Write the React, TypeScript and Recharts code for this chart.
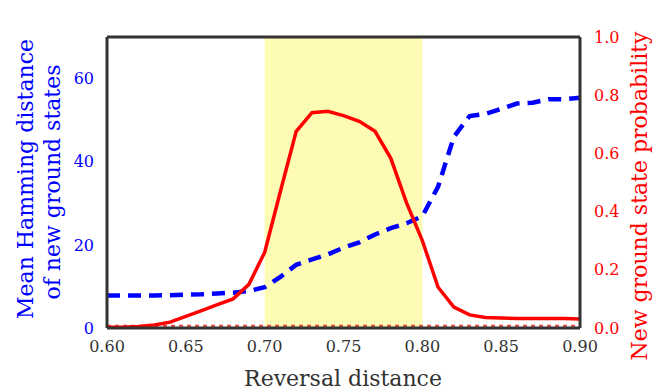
import React from 'react';
import {
  ComposedChart,
  Line,
  XAxis,
  YAxis,
  ReferenceArea,
  ReferenceLine,
} from 'recharts';

const reversal = [
  0.6, 0.61, 0.62, 0.63, 0.64, 0.65, 0.66, 0.67, 0.68, 0.69, 0.7, 0.71, 0.72, 0.73, 0.74, 0.75,
  0.76, 0.77, 0.78, 0.79, 0.8, 0.81, 0.82, 0.83, 0.84, 0.85, 0.86, 0.87, 0.88, 0.89, 0.9,
];
const hamming = [
  7.8, 7.8, 7.8, 7.8, 7.9, 8.0, 8.1, 8.3, 8.5, 8.9, 9.8, 12.3, 15.2, 16.5, 17.7, 19.3,
  20.6, 22.5, 24.0, 25.2, 26.9, 34.0, 46.0, 51.0, 51.5, 52.7, 54.0, 54.2, 55.0, 55.0, 55.4,
];
const probability = [
  0.003, 0.003, 0.005, 0.01, 0.02, 0.04, 0.06, 0.08, 0.1, 0.15, 0.26, 0.47, 0.676, 0.74, 0.745, 0.73,
  0.71, 0.676, 0.583, 0.43, 0.3, 0.14, 0.072, 0.045, 0.036, 0.034, 0.033, 0.033, 0.033, 0.033, 0.031,
];
const baseline = reversal.map(() => 0.008);

const xTicks = [0.6, 0.65, 0.7, 0.75, 0.8, 0.85, 0.9];
const leftTicks = [0, 20, 40, 60];
const rightTicks = [0, 0.2, 0.4, 0.6, 0.8, 1.0];

const data = reversal.map((r, i) => ({
  r,
  hamming: hamming[i],
  prob: probability[i],
  base: baseline[i],
}));

const FONT = '"DejaVu Serif", serif';
const FRAME = '#333333';

export default function App() {
  return (
    <div style={{ position: 'absolute', left: 0, top: 0, width: 667, height: 392, background: '#fff' }}>
      <ComposedChart
        width={667}
        height={392}
        data={data}
        margin={{ top: 37, right: 0, bottom: 0, left: 0 }}
        style={{ fontFamily: FONT }}
      >
        <XAxis
          dataKey="r"
          type="number"
          domain={[0.6, 0.9]}
          ticks={xTicks}
          tickFormatter={(v: number) => v.toFixed(2)}
          height={64}
          axisLine={{ stroke: FRAME, strokeWidth: 3 }}
          tickLine={false}
          tickMargin={7}
          tick={{ fill: '#333', fontSize: 16, fontFamily: FONT }}
          allowDataOverflow
        />
        <YAxis
          yAxisId="left"
          domain={[0, 70]}
          ticks={leftTicks}
          width={107}
          axisLine={{ stroke: FRAME, strokeWidth: 3 }}
          tickLine={false}
          tickMargin={7}
          tick={{ fill: '#0000ff', fontSize: 16, fontFamily: FONT }}
        />
        <YAxis
          yAxisId="right"
          orientation="right"
          domain={[0, 1]}
          ticks={rightTicks}
          tickFormatter={(v: number) => v.toFixed(1)}
          width={87}
          axisLine={{ stroke: FRAME, strokeWidth: 3 }}
          tickLine={false}
          tickMargin={8}
          tick={{ fill: '#ff0000', fontSize: 16, fontFamily: FONT, textAnchor: 'start' }}
        />
        <ReferenceArea yAxisId="left" x1={0.7} x2={0.8} y1={0} y2={70} fill="#fefcb4" fillOpacity={1} stroke="none" />
        <ReferenceLine yAxisId="left" y={70} stroke={FRAME} strokeWidth={3} />
        <Line
          yAxisId="right"
          dataKey="base"
          stroke="#e8403a"
          strokeWidth={2}
          strokeDasharray="4 4"
          dot={false}
          isAnimationActive={false}
        />
        <Line
          yAxisId="left"
          dataKey="hamming"
          stroke="#0000ff"
          strokeWidth={4.5}
          strokeDasharray="13 8"
          dot={false}
          isAnimationActive={false}
        />
        <Line
          yAxisId="right"
          dataKey="prob"
          stroke="#ff0000"
          strokeWidth={3.5}
          dot={false}
          isAnimationActive={false}
        />
        <text
          x={343}
          y={386}
          textAnchor="middle"
          fill="#333"
          fontSize={22}
          fontFamily={FONT}
        >
          Reversal distance
        </text>
        <text
          transform="translate(27,179) rotate(-90)"
          textAnchor="middle"
          dominantBaseline="middle"
          fill="#0000ff"
          fontSize={22}
          fontFamily={FONT}
        >
          Mean Hamming distance
        </text>
        <text
          transform="translate(54,182) rotate(-90)"
          textAnchor="middle"
          dominantBaseline="middle"
          fill="#0000ff"
          fontSize={22}
          fontFamily={FONT}
        >
          of new ground states
        </text>
        <text
          transform="translate(641,196) rotate(-90)"
          textAnchor="middle"
          dominantBaseline="middle"
          fill="#ff0000"
          fontSize={22}
          fontFamily={FONT}
        >
          New ground state probability
        </text>
      </ComposedChart>
    </div>
  );
}
